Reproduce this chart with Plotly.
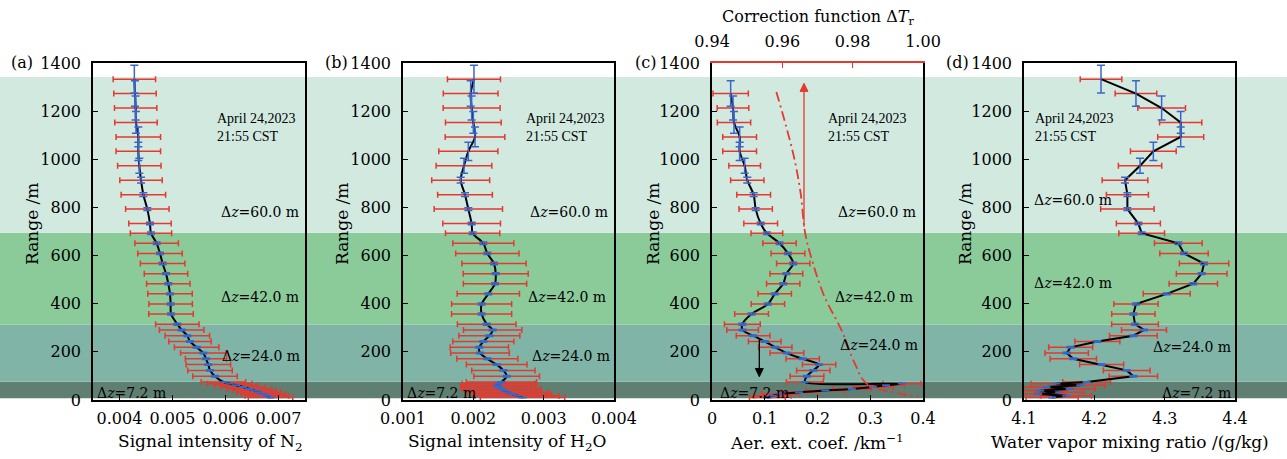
import plotly.graph_objects as go

W, H = 1287, 459
FONT = "DejaVu Serif"
RED = "#e5392f"
BLUE = "#3a66c8"

# ---------------- data ----------------
Z60 = [1333, 1273, 1213, 1153, 1093, 1033, 973, 913, 853, 793, 733]
Z42 = [693, 651, 609, 567, 525, 483, 441, 399, 357, 315]
Z24 = [291, 267, 243, 219, 195, 171, 147, 123, 99]
Z7 = [75, 68, 61, 54, 46, 39, 32, 25, 18, 10]
heights = Z60 + Z42 + Z24 + Z7

range_err = [58, 53, 50, 45, 41, 38, 31, 12, 8, 6, 5,
             5, 5, 5, 5, 4, 4, 4, 4, 4, 4,
             3, 3, 3, 3, 3, 3, 3, 3, 3,
             1, 1, 1, 1, 1, 1, 1, 1, 1, 1]

n2 = [0.004280, 0.004292, 0.004305, 0.004311, 0.004355, 0.004355, 0.004374, 0.004406, 0.004450, 0.004525, 0.004575,
      0.004594, 0.004701, 0.004764, 0.004814, 0.004877, 0.004921, 0.004953, 0.004965, 0.004972, 0.005091,
      0.005173, 0.005280, 0.005330, 0.005456, 0.005582, 0.005632, 0.005676, 0.005708, 0.005802,
      0.005960, 0.006080, 0.006200, 0.006330, 0.006450, 0.006550, 0.006630, 0.006710, 0.006780, 0.006850]
n2_err = [0.00040, 0.00040, 0.00040, 0.00040, 0.00042, 0.00042, 0.00041, 0.00040, 0.00042, 0.00041, 0.00040,
          0.00039, 0.00041, 0.00042, 0.00042, 0.00041, 0.00041, 0.00042, 0.00041, 0.00042, 0.00041,
          0.00042, 0.00042, 0.00040, 0.00042, 0.00043, 0.00039, 0.00042, 0.00042, 0.00042,
          0.00042, 0.00042, 0.00041, 0.00042, 0.00042, 0.00041, 0.00042, 0.00042, 0.00041, 0.00042]

h2o = [0.002009, 0.001962, 0.001976, 0.002000, 0.002024, 0.001929, 0.001867, 0.001820, 0.001882, 0.001929, 0.001976,
       0.001990, 0.002142, 0.002199, 0.002294, 0.002318, 0.002308, 0.002213, 0.002118, 0.002118, 0.002190,
       0.002275, 0.002228, 0.002142, 0.002085, 0.002095, 0.002199, 0.002332, 0.002427, 0.002474,
       0.002400, 0.002360, 0.002340, 0.002360, 0.002400, 0.002440, 0.002490, 0.002550, 0.002620, 0.002700]
h2o_err = [0.000377, 0.000389, 0.000405, 0.000396, 0.000424, 0.000420, 0.000396, 0.000412, 0.000389, 0.000486, 0.000410,
           0.000386, 0.000434, 0.000450, 0.000457, 0.000462, 0.000450, 0.000443, 0.000427, 0.000427, 0.000417,
           0.000415, 0.000434, 0.000434, 0.000415, 0.000417, 0.000434, 0.000431, 0.000450, 0.000467,
           0.000500, 0.000520, 0.000500, 0.000540, 0.000560, 0.000520, 0.000580, 0.000560, 0.000600, 0.000600]

aer_heights = heights[1:]
aer = [0.0354, 0.0398, 0.0417, 0.0524, 0.0524, 0.0619, 0.0669, 0.0790, 0.0828, 0.0923,
       0.1040, 0.1280, 0.1440, 0.1540, 0.1410, 0.1350, 0.1190, 0.1060, 0.0750, 0.0575,
       0.0580, 0.0780, 0.1000, 0.1200, 0.1420, 0.1720, 0.2030, 0.1920, 0.1800,
       0.1760, 0.3600, 0.3300, 0.3050, 0.2650, 0.2150, 0.1650, 0.1300, 0.1150, 0.1050]
aer_err = [0.0335, 0.0300, 0.0316, 0.0320, 0.0320, 0.0300, 0.0316, 0.0320, 0.0316, 0.0320,
           0.0300, 0.0316, 0.0320, 0.0316, 0.0310, 0.0316, 0.0316, 0.0316, 0.0320, 0.0340,
           0.0300, 0.0320, 0.0310, 0.0316, 0.0320, 0.0316, 0.0316, 0.0316, 0.0320,
           0.0350, 0.0360, 0.0350, 0.0380, 0.0360, 0.0370, 0.0350, 0.0360, 0.0350, 0.0340]

wvmr = [4.2095, 4.2592, 4.2957, 4.3228, 4.3228, 4.2839, 4.2650, 4.2436, 4.2470, 4.2470, 4.2626,
        4.2673, 4.3194, 4.3275, 4.3560, 4.3526, 4.3407, 4.3029, 4.2592, 4.2555, 4.2578,
        4.2706, 4.2555, 4.2043, 4.1664, 4.1607, 4.1701, 4.2104, 4.2460, 4.2555,
        4.1890, 4.1460, 4.1800, 4.1320, 4.1650, 4.1230, 4.1500, 4.1200, 4.1600, 4.1400]
wvmr_err = [0.0296, 0.0296, 0.0339, 0.0300, 0.0327, 0.0325, 0.0308, 0.0325, 0.0299, 0.0380, 0.0313,
            0.0325, 0.0339, 0.0344, 0.0351, 0.0360, 0.0344, 0.0334, 0.0315, 0.0308, 0.0332,
            0.0320, 0.0339, 0.0320, 0.0313, 0.0308, 0.0330, 0.0313, 0.0332, 0.0344,
            0.0340, 0.0360, 0.0350, 0.0380, 0.0360, 0.0370, 0.0350, 0.0380, 0.0360, 0.0370]

corr_heights = [1280, 1136, 997, 859, 693, 568, 429, 291, 152, 69, 28, 14]
corr = [0.9583, 0.9611, 0.9635, 0.9652, 0.9665, 0.9687, 0.9720, 0.9768, 0.9806, 0.9839, 0.9929, 0.9986]

band_edges = [7, 76, 314, 695, 1342]
band_colors = ["#5e7f71", "#7fb4a6", "#8bcb9a", "#d2e9e0"]

x_ranges = [[0.0035, 0.0075], [0.001, 0.004], [0.0, 0.4], [4.1, 4.4]]
x_ticks = [[0.004, 0.005, 0.006, 0.007], [0.001, 0.002, 0.003, 0.004],
           [0, 0.1, 0.2, 0.3, 0.4], [4.1, 4.2, 4.3, 4.4]]
x_ticktext = [["0.004", "0.005", "0.006", "0.007"], ["0.001", "0.002", "0.003", "0.004"],
              ["0", "0.1", "0.2", "0.3", "0.4"], ["4.1", "4.2", "4.3", "4.4"]]
top_range = [0.94, 1.00]
top_ticks = [0.94, 0.96, 0.98, 1.00]
top_ticktext = ["0.94", "0.96", "0.98", "1.00"]

x_titles = ["Signal intensity of N<sub>2</sub>", "Signal intensity of H<sub>2</sub>O",
            "Aer. ext. coef. /km<sup>−1</sup>", "Water vapor mixing ratio /(g/kg)"]
panel_tags = ["(a)", "(b)", "(c)", "(d)"]

# arrows drawn in panel (c) (data coordinates of panel c)
RED_ARROW = dict(x=0.1744, head=1316, tail=720)
BLACK_ARROW = dict(x=0.0897, head=97, tail=249)

# ---------------- layout geometry (pixels) ----------------
frames = [(93, 305), (403, 614), (712, 923), (1024, 1235)]
TOP, BOT = 63, 400


def px(x):
    return x / W


def py(y):
    return 1 - y / H


fig = go.Figure()

series = [(n2, n2_err, heights, range_err),
          (h2o, h2o_err, heights, range_err),
          (aer, aer_err, aer_heights, range_err[1:]),
          (wvmr, wvmr_err, heights, range_err)]

for i, (vals, errs, hts, yerr) in enumerate(series):
    xa = "x" if i == 0 else f"x{i+1}"
    ya = "y" if i == 0 else f"y{i+1}"
    fig.add_trace(go.Scatter(x=vals, y=hts, mode="markers", xaxis=xa, yaxis=ya,
                             marker=dict(size=2, color="rgba(0,0,0,0)"),
                             error_x=dict(type="data", array=errs, color=RED, thickness=1.5, width=3),
                             showlegend=False, hoverinfo="skip"))
    fig.add_trace(go.Scatter(x=vals, y=hts, mode="lines", xaxis=xa, yaxis=ya,
                             line=dict(color="black", width=2,
                                       shape="linear" if i == 3 else "spline",
                                       smoothing=0.8),
                             showlegend=False, hoverinfo="skip"))
    fig.add_trace(go.Scatter(x=vals, y=hts, mode="markers", xaxis=xa, yaxis=ya,
                             marker=dict(size=2, color="rgba(0,0,0,0)"),
                             error_y=dict(type="data", array=yerr, color=BLUE, thickness=1.5, width=4),
                             showlegend=False, hoverinfo="skip"))

# correction function on top axis of panel (c)
fig.add_trace(go.Scatter(x=corr, y=corr_heights, mode="lines", xaxis="x5", yaxis="y3",
                         line=dict(color=RED, width=1.8, dash="10px,4px,2px,4px", shape="spline"),
                         showlegend=False, hoverinfo="skip"))

tickfont = dict(family=FONT, size=16, color="black")
ydom = [py(BOT), py(TOP)]
layout = dict(width=W, height=H, margin=dict(l=0, r=0, t=0, b=0),
              paper_bgcolor="white", plot_bgcolor="rgba(0,0,0,0)",
              template="none", showlegend=False)

for i, (l, r) in enumerate(frames):
    xk = "xaxis" if i == 0 else f"xaxis{i+1}"
    yk = "yaxis" if i == 0 else f"yaxis{i+1}"
    ya_id = "y" if i == 0 else f"y{i+1}"
    xa_id = "x" if i == 0 else f"x{i+1}"
    layout[xk] = dict(domain=[px(l), px(r)], range=x_ranges[i], anchor=ya_id,
                      tickvals=x_ticks[i], ticktext=x_ticktext[i],
                      showline=True, linecolor="black", linewidth=1.6,
                      mirror=(i != 2), ticks="inside", ticklen=5, tickwidth=1.2,
                      tickcolor="black", tickfont=tickfont, showgrid=False,
                      zeroline=False, automargin=False, ticklabelstandoff=3)
    layout[yk] = dict(domain=ydom, range=[0, 1400], anchor=xa_id,
                      tickvals=[0, 200, 400, 600, 800, 1000, 1200, 1400],
                      showline=True, linecolor="black", linewidth=1.6, mirror=True,
                      ticks="inside", ticklen=5, tickwidth=1.2, tickcolor="black",
                      tickfont=tickfont, showgrid=False, zeroline=False,
                      automargin=False, ticklabelstandoff=7)

layout["xaxis5"] = dict(overlaying="x3", side="top", anchor="y3", range=top_range,
                        tickvals=top_ticks, ticktext=top_ticktext,
                        showline=True, linecolor=RED, linewidth=1.6,
                        ticks="inside", ticklen=5, tickwidth=1.2, tickcolor=RED,
                        tickfont=tickfont, showgrid=False, zeroline=False,
                        automargin=False, ticklabelstandoff=8)

# background bands spanning the full width
shapes = []
for k in range(len(band_colors)):
    shapes.append(dict(type="rect", xref="paper", yref="y", x0=0, x1=1,
                       y0=band_edges[k], y1=band_edges[k + 1],
                       fillcolor=band_colors[k], line=dict(width=0), layer="below"))

# arrows in panel (c): shaft + triangular head
HEAD_DX, HEAD_DY = 0.0075, 34
for arr, col in ((RED_ARROW, RED), (BLACK_ARROW, "black")):
    direction = 1 if arr["head"] > arr["tail"] else -1
    base = arr["head"] - direction * HEAD_DY
    shapes.append(dict(type="line", xref="x3", yref="y3", x0=arr["x"], x1=arr["x"],
                       y0=arr["tail"], y1=base, line=dict(color=col, width=1.3)))
    shapes.append(dict(type="path", xref="x3", yref="y3",
                       path=f"M {arr['x'] - HEAD_DX},{base} L {arr['x']},{arr['head']} "
                            f"L {arr['x'] + HEAD_DX},{base} Z",
                       fillcolor=col, line=dict(color=col, width=1)))
layout["shapes"] = shapes

ann = []
title_x = [210, 507, 817, 1130]
ytitle_x = [32, 342, 653, 965]
tag_x = [22, 336, 646, 957]
date_x = [215, 524, 826, 1033]
for i in range(4):
    ann.append(dict(text=x_titles[i], x=px(title_x[i]), y=py(442), xref="paper", yref="paper",
                    showarrow=False, xanchor="center", yanchor="middle",
                    font=dict(family=FONT, size=17, color="black")))
    ann.append(dict(text="Range /m", x=px(ytitle_x[i]), y=py(224), xref="paper", yref="paper",
                    showarrow=False, textangle=-90, xanchor="center", yanchor="middle",
                    font=dict(family=FONT, size=17, color="black")))
    ann.append(dict(text=panel_tags[i], x=px(tag_x[i]), y=py(63), xref="paper", yref="paper",
                    showarrow=False, xanchor="center", yanchor="middle",
                    font=dict(family=FONT, size=16, color="black")))
    ann.append(dict(text="April 24,2023<br>21:55 CST", x=px(date_x[i]), y=py(127), xref="paper",
                    yref="paper", showarrow=False, xanchor="left", yanchor="middle", align="left",
                    font=dict(family="Liberation Serif", size=14, color="black")))

dz_labels = [
    # (text, x_px, y_px, anchor)
    ("60.0", 301, 212, "right"), ("42.0", 301, 297, "right"), ("24.0", 302, 356, "right"), ("7.2", 95, 393, "left"),
    ("60.0", 610, 212, "right"), ("42.0", 608, 297, "right"), ("24.0", 612, 356, "right"), ("7.2", 405, 393, "left"),
    ("60.0", 918, 212, "right"), ("42.0", 915, 297, "right"), ("24.0", 920, 345, "right"), ("7.2", 718, 393, "left"),
    ("60.0", 1032, 200, "left"), ("42.0", 1032, 283, "left"), ("24.0", 1233, 347, "right"), ("7.2", 1233, 393, "right"),
]
for t, x, y, anc in dz_labels:
    ann.append(dict(text=f"Δ<i>z</i>={t} m", x=px(x), y=py(y), xref="paper", yref="paper",
                    showarrow=False, xanchor=anc, yanchor="middle",
                    font=dict(family=FONT, size=14, color="black")))

ann.append(dict(text="Correction function Δ<i>T</i><sub>r</sub>", x=px(818), y=py(18), xref="paper",
                yref="paper", showarrow=False, xanchor="center", yanchor="middle",
                font=dict(family=FONT, size=16, color="black")))

layout["annotations"] = ann
fig.update_layout(**layout)

fig.write_html("out.html", config={"displayModeBar": False},
               post_script="document.body.style.margin='0';")
